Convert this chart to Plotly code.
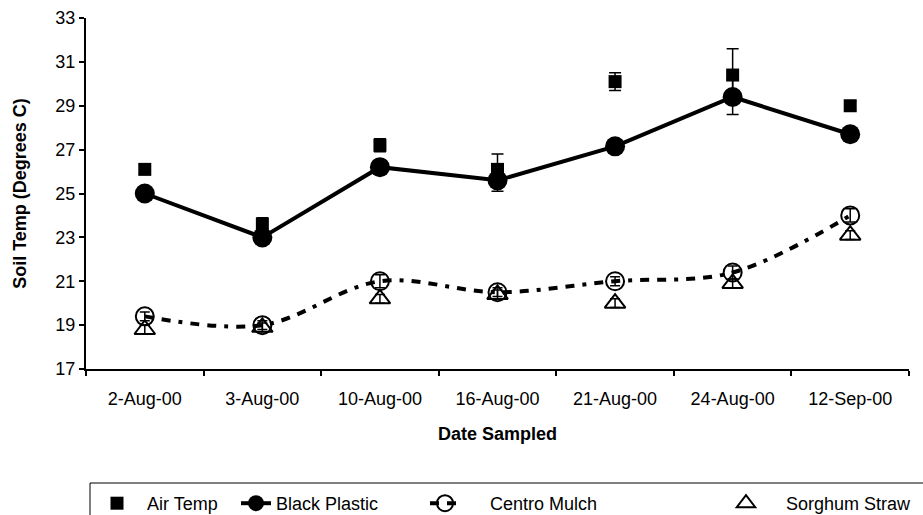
import plotly.graph_objects as go

dates = ["2-Aug-00", "3-Aug-00", "10-Aug-00", "16-Aug-00", "21-Aug-00", "24-Aug-00", "12-Sep-00"]
air_temp = [26.1, 23.6, 27.2, 26.1, 30.1, 30.4, 29.0]
air_err = [0.2, 0.3, 0.3, 0.7, 0.4, 1.2, 0.2]
black_plastic = [25.0, 23.0, 26.2, 25.6, 27.15, 29.4, 27.7]
black_err = [0.2, 0.2, 0.3, 0.5, 0.2, 0.8, 0.2]
centro_mulch = [19.4, 19.0, 21.0, 20.5, 21.0, 21.4, 24.0]
centro_err = [0.2, 0.2, 0.3, 0.2, 0.2, 0.3, 0.3]
sorghum_straw = [18.8, 18.9, 20.2, 20.4, 20.0, 20.9, 23.1]
sorghum_err = [0.2, 0.2, 0.2, 0.2, 0.2, 0.2, 0.2]

FONT = "Liberation Sans, Arial, sans-serif"
FS = 18
NB = "\u00a0"

L, R, T, B = 86, 14, 18, 146
W, H = 923, 515
pw, ph = W - L - R, H - T - B


def px_x(x):
    return (x - L) / pw


def px_y(y):
    return (H - B - y) / ph


fig = go.Figure()
fig.add_trace(go.Scatter(
    x=dates, y=air_temp, name=NB * 2 + "Air Temp", mode="markers", legend="legend",
    marker=dict(symbol="square", size=13, color="black"),
    error_y=dict(type="data", array=air_err, color="black", thickness=1.5, width=6),
))
fig.add_trace(go.Scatter(
    x=dates, y=black_plastic, name="Black Plastic", mode="lines+markers", legend="legend2",
    line=dict(color="black", width=4),
    marker=dict(symbol="circle", size=20, color="black"),
    error_y=dict(type="data", array=black_err, color="black", thickness=1.5, width=6),
))
fig.add_trace(go.Scatter(
    x=dates, y=centro_mulch, name=NB * 5 + "Centro Mulch", mode="lines+markers", legend="legend3",
    line=dict(color="black", width=4, dash="9px,8px,9px,8px,4px,8px", shape="spline", smoothing=1),
    marker=dict(symbol="circle-open", size=18, color="black", line=dict(width=2, color="black")),
    error_y=dict(type="data", array=centro_err, color="black", thickness=1.5, width=5),
))
fig.add_trace(go.Scatter(
    x=dates, y=sorghum_straw, name=NB * 4 + "Sorghum Straw", mode="markers", legend="legend4",
    marker=dict(symbol="triangle-up-open", size=18, color="black", line=dict(width=2, color="black")),
    error_y=dict(type="data", array=sorghum_err, color="black", thickness=1.5, width=5),
))

fig.add_shape(type="rect", xref="paper", yref="paper",
              x0=px_x(90), x1=px_x(940), y0=px_y(483), y1=px_y(530),
              line=dict(color="black", width=1), fillcolor="rgba(0,0,0,0)", layer="above")


def leg(xpx):
    return dict(orientation="h", x=px_x(xpx), y=px_y(485), xanchor="left", yanchor="top",
                font=dict(family=FONT, size=FS, color="black"),
                bgcolor="rgba(0,0,0,0)", borderwidth=0, itemsizing="trace")


fig.update_layout(
    width=W, height=H,
    margin=dict(l=L, r=R, t=T, b=B, autoexpand=False),
    paper_bgcolor="white", plot_bgcolor="white",
    font=dict(family=FONT, size=FS, color="black"),
    showlegend=True,
    legend=leg(97),
    legend2=leg(236),
    legend3=leg(425),
    legend4=leg(726),
    xaxis=dict(
        type="category", range=[-0.5, 6.5], showgrid=False,
        showline=True, linecolor="black", linewidth=2,
        ticks="outside", ticklen=5, tickwidth=2, tickcolor="black", tickson="boundaries",
        ticklabelstandoff=12,
        tickfont=dict(family=FONT, size=FS, color="black"),
        title=dict(text="<b>Date Sampled</b>", font=dict(family=FONT, size=FS, color="black"), standoff=20),
        zeroline=False, automargin=False,
    ),
    yaxis=dict(
        range=[17, 33], dtick=2, tick0=17, showgrid=False,
        showline=True, linecolor="black", linewidth=2,
        ticks="outside", ticklen=5, tickwidth=2, tickcolor="black",
        tickfont=dict(family=FONT, size=FS, color="black"),
        title=dict(text="<b>Soil Temp (Degrees C)</b>", font=dict(family=FONT, size=FS, color="black"), standoff=24),
        zeroline=False, automargin=False,
    ),
)

fig.write_html("out.html")
